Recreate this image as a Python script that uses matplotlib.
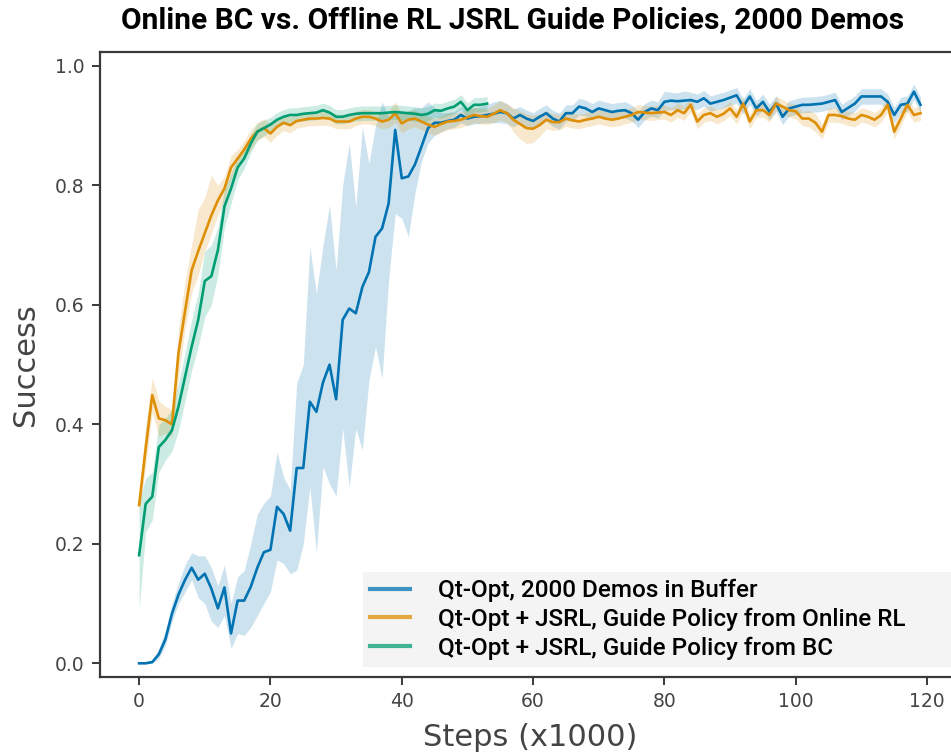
import numpy as np
import matplotlib
matplotlib.use("Agg")
import matplotlib.pyplot as plt
from matplotlib.lines import Line2D

# ---- data (steps in thousands) ----
blue_x = np.arange(0, 120)
blue_y = [0.000, 0.000, 0.002, 0.015, 0.040, 0.083, 0.115, 0.140, 0.160, 0.140,
          0.150, 0.125, 0.092, 0.127, 0.050, 0.105, 0.105, 0.128, 0.160, 0.186,
          0.190, 0.262, 0.250, 0.222, 0.327, 0.327, 0.438, 0.421, 0.470, 0.500,
          0.442, 0.575, 0.594, 0.586, 0.630, 0.655, 0.714, 0.728, 0.770, 0.893,
          0.812, 0.815, 0.835, 0.865, 0.896, 0.905, 0.905, 0.908, 0.910, 0.918,
          0.912, 0.915, 0.916, 0.918, 0.920, 0.923, 0.921, 0.912, 0.918, 0.912,
          0.908, 0.915, 0.921, 0.912, 0.907, 0.921, 0.921, 0.932, 0.929, 0.923,
          0.929, 0.926, 0.923, 0.925, 0.926, 0.921, 0.910, 0.923, 0.929, 0.926,
          0.940, 0.942, 0.941, 0.942, 0.943, 0.940, 0.946, 0.937, 0.940, 0.943,
          0.947, 0.951, 0.932, 0.949, 0.929, 0.940, 0.923, 0.937, 0.915, 0.929,
          0.932, 0.935, 0.935, 0.936, 0.937, 0.940, 0.943, 0.923, 0.930, 0.937,
          0.949, 0.949, 0.949, 0.949, 0.940, 0.918, 0.935, 0.937, 0.957, 0.935]
blue_lo = [0.000, 0.000, 0.000, 0.008, 0.030, 0.070, 0.100, 0.120, 0.140, 0.110,
           0.100, 0.070, 0.060, 0.080, 0.025, 0.050, 0.047, 0.060, 0.080, 0.100,
           0.120, 0.173, 0.167, 0.150, 0.156, 0.200, 0.295, 0.186, 0.329, 0.300,
           0.280, 0.393, 0.295, 0.393, 0.357, 0.474, 0.530, 0.477, 0.642, 0.753,
           0.745, 0.714, 0.787, 0.840, 0.871, 0.884, 0.890, 0.895, 0.897, 0.905,
           0.900, 0.903, 0.904, 0.905, 0.905, 0.905, 0.903, 0.898, 0.905, 0.899,
           0.895, 0.902, 0.908, 0.899, 0.894, 0.908, 0.908, 0.918, 0.916, 0.910,
           0.916, 0.913, 0.910, 0.912, 0.913, 0.908, 0.897, 0.910, 0.916, 0.913,
           0.925, 0.927, 0.927, 0.928, 0.930, 0.927, 0.933, 0.924, 0.927, 0.930,
           0.934, 0.938, 0.919, 0.936, 0.916, 0.927, 0.910, 0.924, 0.902, 0.916,
           0.919, 0.922, 0.922, 0.923, 0.924, 0.927, 0.930, 0.910, 0.917, 0.924,
           0.936, 0.936, 0.936, 0.936, 0.927, 0.905, 0.922, 0.924, 0.944, 0.922]
blue_hi = [0.003, 0.003, 0.005, 0.025, 0.055, 0.100, 0.135, 0.165, 0.185, 0.180,
           0.180, 0.160, 0.130, 0.165, 0.100, 0.145, 0.155, 0.200, 0.250, 0.268,
           0.280, 0.354, 0.312, 0.290, 0.469, 0.500, 0.697, 0.619, 0.700, 0.767,
           0.658, 0.800, 0.871, 0.764, 0.898, 0.837, 0.900, 0.940, 0.915, 0.925,
           0.920, 0.925, 0.930, 0.930, 0.940, 0.930, 0.922, 0.922, 0.924, 0.932,
           0.926, 0.930, 0.932, 0.935, 0.940, 0.942, 0.937, 0.928, 0.932, 0.926,
           0.922, 0.929, 0.935, 0.926, 0.921, 0.935, 0.935, 0.946, 0.943, 0.937,
           0.943, 0.940, 0.937, 0.939, 0.940, 0.935, 0.924, 0.937, 0.943, 0.940,
           0.958, 0.956, 0.955, 0.958, 0.956, 0.953, 0.959, 0.950, 0.953, 0.956,
           0.960, 0.964, 0.945, 0.962, 0.942, 0.953, 0.936, 0.950, 0.928, 0.942,
           0.945, 0.948, 0.948, 0.949, 0.950, 0.953, 0.956, 0.936, 0.943, 0.950,
           0.962, 0.962, 0.962, 0.962, 0.953, 0.931, 0.948, 0.950, 0.970, 0.948]

orange_x = np.arange(0, 120)
orange_y = [0.265, 0.360, 0.449, 0.410, 0.407, 0.400, 0.520, 0.590, 0.658, 0.690,
            0.720, 0.750, 0.775, 0.795, 0.830, 0.845, 0.860, 0.878, 0.890, 0.896,
            0.887, 0.898, 0.905, 0.901, 0.908, 0.910, 0.912, 0.912, 0.913, 0.912,
            0.907, 0.907, 0.907, 0.912, 0.915, 0.915, 0.912, 0.907, 0.910, 0.921,
            0.904, 0.910, 0.912, 0.907, 0.902, 0.898, 0.903, 0.907, 0.908, 0.910,
            0.914, 0.918, 0.916, 0.915, 0.920, 0.926, 0.921, 0.910, 0.903, 0.896,
            0.895, 0.901, 0.910, 0.906, 0.906, 0.912, 0.909, 0.907, 0.910, 0.912,
            0.915, 0.912, 0.910, 0.912, 0.915, 0.918, 0.923, 0.922, 0.921, 0.922,
            0.923, 0.918, 0.926, 0.921, 0.935, 0.907, 0.918, 0.921, 0.915, 0.920,
            0.929, 0.915, 0.937, 0.907, 0.926, 0.926, 0.918, 0.937, 0.932, 0.926,
            0.924, 0.912, 0.912, 0.905, 0.890, 0.918, 0.918, 0.916, 0.912, 0.910,
            0.918, 0.915, 0.910, 0.918, 0.935, 0.890, 0.912, 0.935, 0.918, 0.921]
orange_lo = [0.250, 0.330, 0.420, 0.380, 0.385, 0.380, 0.480, 0.560, 0.620, 0.650,
             0.690, 0.720, 0.750, 0.775, 0.810, 0.830, 0.845, 0.860, 0.875, 0.882,
             0.872, 0.884, 0.892, 0.888, 0.896, 0.898, 0.900, 0.900, 0.901, 0.900,
             0.895, 0.895, 0.895, 0.900, 0.903, 0.903, 0.900, 0.895, 0.897, 0.905,
             0.888, 0.895, 0.898, 0.893, 0.888, 0.884, 0.889, 0.893, 0.895, 0.897,
             0.901, 0.905, 0.903, 0.902, 0.905, 0.910, 0.905, 0.890, 0.878, 0.870,
             0.872, 0.882, 0.895, 0.892, 0.893, 0.899, 0.896, 0.895, 0.898, 0.900,
             0.903, 0.900, 0.898, 0.900, 0.903, 0.906, 0.911, 0.910, 0.909, 0.910,
             0.911, 0.906, 0.914, 0.909, 0.923, 0.895, 0.906, 0.909, 0.903, 0.908,
             0.917, 0.903, 0.925, 0.895, 0.914, 0.914, 0.906, 0.925, 0.920, 0.914,
             0.912, 0.900, 0.898, 0.890, 0.878, 0.906, 0.906, 0.904, 0.900, 0.898,
             0.906, 0.903, 0.898, 0.906, 0.923, 0.878, 0.900, 0.923, 0.906, 0.909]
orange_hi = [0.280, 0.400, 0.478, 0.440, 0.430, 0.425, 0.560, 0.640, 0.700, 0.760,
             0.780, 0.817, 0.800, 0.815, 0.850, 0.860, 0.875, 0.893, 0.905, 0.912,
             0.903, 0.912, 0.918, 0.914, 0.920, 0.922, 0.924, 0.924, 0.925, 0.924,
             0.919, 0.919, 0.919, 0.924, 0.927, 0.927, 0.924, 0.919, 0.925, 0.940,
             0.920, 0.925, 0.926, 0.921, 0.916, 0.912, 0.917, 0.921, 0.921, 0.923,
             0.927, 0.931, 0.929, 0.928, 0.935, 0.942, 0.937, 0.930, 0.925, 0.920,
             0.918, 0.920, 0.925, 0.920, 0.919, 0.925, 0.922, 0.919, 0.922, 0.924,
             0.927, 0.924, 0.922, 0.924, 0.927, 0.930, 0.935, 0.934, 0.933, 0.934,
             0.935, 0.930, 0.938, 0.933, 0.947, 0.919, 0.930, 0.933, 0.927, 0.932,
             0.941, 0.927, 0.949, 0.919, 0.938, 0.938, 0.930, 0.949, 0.944, 0.938,
             0.936, 0.924, 0.926, 0.920, 0.902, 0.930, 0.930, 0.928, 0.924, 0.922,
             0.930, 0.927, 0.922, 0.930, 0.947, 0.902, 0.924, 0.947, 0.930, 0.933]

green_x = np.arange(0, 54)
green_y = [0.181, 0.267, 0.279, 0.362, 0.374, 0.390, 0.430, 0.480, 0.530, 0.575,
           0.640, 0.648, 0.692, 0.765, 0.795, 0.830, 0.845, 0.870, 0.890, 0.896,
           0.902, 0.910, 0.915, 0.918, 0.918, 0.920, 0.921, 0.922, 0.926, 0.922,
           0.915, 0.915, 0.918, 0.920, 0.921, 0.921, 0.921, 0.921, 0.922, 0.923,
           0.922, 0.921, 0.920, 0.918, 0.920, 0.926, 0.925, 0.929, 0.932, 0.940,
           0.926, 0.935, 0.935, 0.937]
green_lo = [0.090, 0.220, 0.240, 0.320, 0.340, 0.355, 0.390, 0.440, 0.490, 0.530,
            0.580, 0.600, 0.650, 0.730, 0.770, 0.810, 0.828, 0.855, 0.876, 0.883,
            0.890, 0.898, 0.903, 0.906, 0.906, 0.908, 0.909, 0.910, 0.914, 0.910,
            0.903, 0.903, 0.906, 0.908, 0.909, 0.909, 0.909, 0.909, 0.910, 0.911,
            0.910, 0.909, 0.908, 0.906, 0.908, 0.914, 0.913, 0.917, 0.920, 0.928,
            0.914, 0.923, 0.923, 0.925]
green_hi = [0.270, 0.310, 0.320, 0.400, 0.410, 0.425, 0.470, 0.520, 0.575, 0.620,
            0.690, 0.700, 0.730, 0.795, 0.820, 0.850, 0.862, 0.885, 0.904, 0.909,
            0.914, 0.922, 0.927, 0.930, 0.930, 0.932, 0.933, 0.934, 0.938, 0.934,
            0.927, 0.927, 0.930, 0.932, 0.933, 0.933, 0.933, 0.933, 0.934, 0.935,
            0.934, 0.933, 0.932, 0.930, 0.932, 0.938, 0.937, 0.941, 0.944, 0.952,
            0.938, 0.947, 0.947, 0.949]

labels = ["Qt-Opt, 2000 Demos in Buffer",
          "Qt-Opt + JSRL, Guide Policy from Online RL",
          "Qt-Opt + JSRL, Guide Policy from BC"]
colors = ["#0173b2", "#de8f05", "#029e73"]

# ---- figure ----
fig = plt.figure(figsize=(9.51, 7.56), dpi=100)
ax = fig.add_axes([0.1052, 0.1049, 0.9038, 0.8263])

series = [(blue_x, blue_y, blue_lo, blue_hi),
          (orange_x, orange_y, orange_lo, orange_hi),
          (green_x, green_y, green_lo, green_hi)]
for (x, y, lo, hi), c in zip(series, colors):
    ax.fill_between(x, lo, hi, color=c, alpha=0.2, lw=0)
for (x, y, lo, hi), c in zip(series, colors):
    ax.plot(x, y, color=c, lw=1.9)

ax.set_xlim(-5.95, 124.95)
ax.set_ylim(-0.0224, 1.0234)
ax.set_xticks([0, 20, 40, 60, 80, 100, 120])
ax.set_yticks([0.0, 0.2, 0.4, 0.6, 0.8, 1.0])
ax.yaxis.set_major_formatter(matplotlib.ticker.FormatStrFormatter("%.1f"))

for sp in ax.spines.values():
    sp.set_color("#3a3a3a")
    sp.set_linewidth(1.6)
ax.tick_params(direction="out", length=6, width=1.4, color="#3a3a3a",
               labelsize=13.5, labelcolor="#444444", pad=5)

ax.set_xlabel("Steps (x1000)", fontsize=22, color="#444444", labelpad=9)
ax.set_ylabel("Success", fontsize=22, color="#444444", labelpad=11)

fig.text(0.539, 0.973, "Online BC vs. Offline RL JSRL Guide Policies, 2000 Demos",
         ha="center", va="center", fontsize=21.5, fontweight="bold",
         family=["Roboto", "DejaVu Sans"], color="black")

handles = [Line2D([], [], color=c, lw=3, alpha=0.75) for c in colors]
leg = ax.legend(handles, labels, loc="upper left", mode="expand",
                bbox_to_anchor=(0.306, 0.168, 0.72, 0.0),
                prop={"family": ["Roboto", "DejaVu Sans"], "size": 17.5, "weight": "medium"},
                handlelength=1.65, handletextpad=1.15, labelspacing=0.22,
                borderpad=0.3, borderaxespad=0, frameon=True, fancybox=False)
leg.get_frame().set_facecolor("#f4f4f4")
leg.get_frame().set_edgecolor("none")
leg.get_frame().set_alpha(1)

fig.savefig("out.png", dpi=100)
